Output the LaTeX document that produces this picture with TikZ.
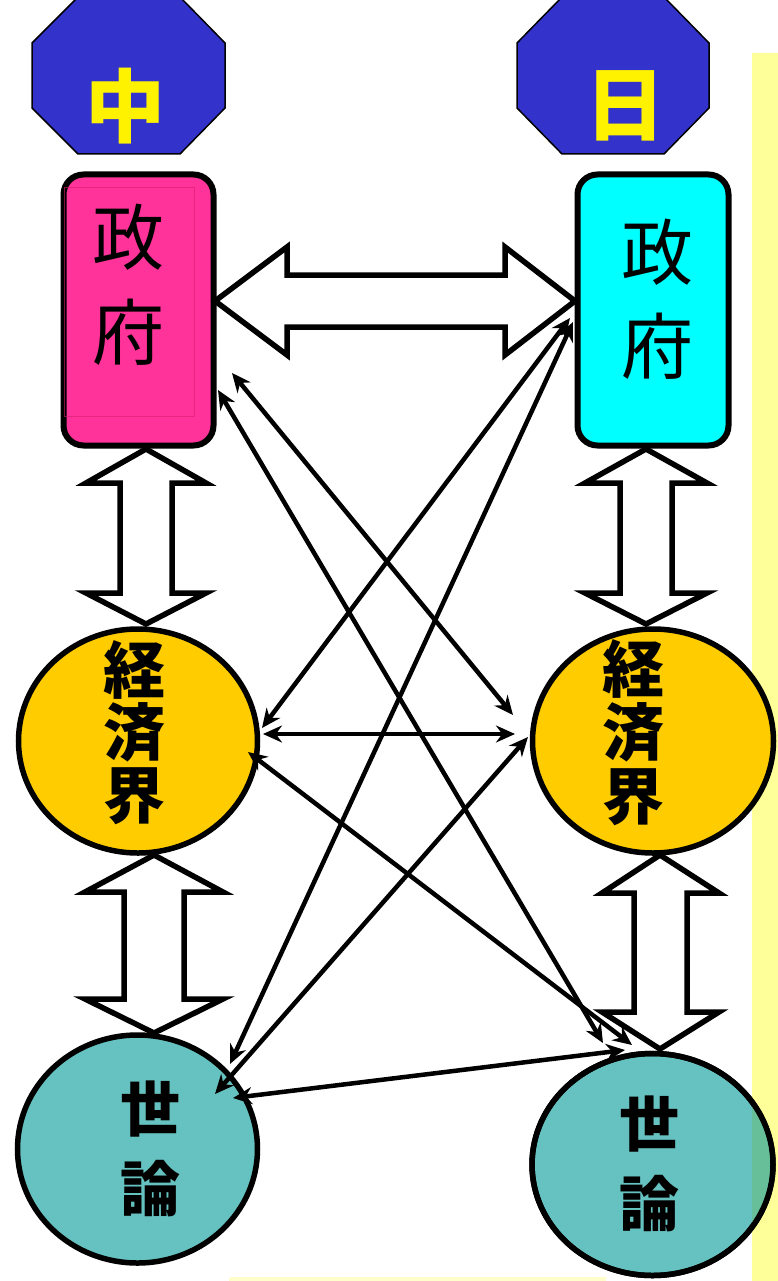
\documentclass[tikz,border=0pt]{standalone}
\usepackage{fontspec}
\newfontfamily\cjk{Noto Sans CJK JP}
\usetikzlibrary{arrows.meta,shapes.geometric}
\definecolor{octblue}{RGB}{51,51,204}
\definecolor{govpink}{RGB}{255,51,153}
\definecolor{govcyan}{RGB}{0,255,255}
\definecolor{ecogold}{RGB}{255,204,0}
\definecolor{pubteal}{RGB}{102,194,192}
\definecolor{pubgreen}{RGB}{102,191,153}
\definecolor{panelyel}{RGB}{255,255,153}
\definecolor{stripyel}{RGB}{255,255,204}
\definecolor{innerpink}{RGB}{215,30,110}
\tikzset{
  octa/.style={draw=black, line width=1.5pt, fill=octblue},
  govbox/.style={draw=black, line width=6pt, rounded corners=20pt, inner sep=0pt},
  oval/.style={draw=black, line width=5.5pt, ellipse, inner sep=0pt},
  blk/.style={draw=black, line width=5.5pt, fill=white, line join=miter},
  con/.style={draw=black, line width=4.5pt, {Stealth[length=19pt,width=17pt]}-{Stealth[length=19pt,width=17pt]}},
  flag/.style={inner sep=0pt, text=yellow, font=\cjk\bfseries\fontsize{80}{80}\selectfont},
  govtxt/.style={inner sep=0pt, font=\cjk\fontsize{72}{72}\selectfont},
  ecotxt/.style={inner sep=0pt, font=\cjk\bfseries\fontsize{62}{62}\selectfont},
  pubtxt/.style={inner sep=0pt, font=\cjk\bfseries\fontsize{60}{60}\selectfont},
}
\begin{document}
\begin{tikzpicture}[x=1pt,y=-1pt]
\useasboundingbox (0,0) rectangle (777,1281);
% background panels
\fill[panelyel] (752,53) rectangle (790,1290);
\fill[stripyel] (229,1277) rectangle (606,1290);
% octagons
\draw[octa] (78,-3) -- (180,-3) -- (225,43) -- (225,108) -- (180,154) -- (78,154) -- (32,108) -- (32,43) -- cycle;
\node[flag] (zh) at (125,106) {中};
\draw[octa] (562,-3) -- (664,-3) -- (709,43) -- (709,108) -- (664,154) -- (562,154) -- (517,108) -- (517,43) -- cycle;
\node[flag] (ja) at (625,106) {日};
% government boxes
\node[govbox, fill=govpink, minimum width=150pt, minimum height=271pt] (govL) at (138.5,310) {};
\draw[innerpink, line width=1pt, opacity=0.6] (64,188) rectangle (194,416);
\node[govtxt] (govL1) at (128,237) {政};
\node[govtxt] (govL2) at (128,332) {府};
\node[govbox, fill=govcyan, minimum width=151pt, minimum height=271pt] (govR) at (653,310) {};
\node[govtxt] (govR1) at (657,252) {政};
\node[govtxt] (govR2) at (657,346) {府};
% economy ovals
\node[oval, fill=ecogold, minimum width=239pt, minimum height=224pt] (ecoL) at (138,741) {};
\node[ecotxt] (ecoL1) at (134,670) {経};
\node[ecotxt] (ecoL2) at (134,732) {済};
\node[ecotxt] (ecoL3) at (134,796) {界};
\node[oval, fill=ecogold, minimum width=241pt, minimum height=224pt] (ecoR) at (653,741) {};
\node[ecotxt] (ecoR1) at (633,669) {経};
\node[ecotxt] (ecoR2) at (633,732) {済};
\node[ecotxt] (ecoR3) at (633,797) {界};
% public opinion ovals
\node[oval, fill=pubteal, minimum width=240pt, minimum height=228pt] (pubL) at (137.5,1149) {};
\node[pubtxt] (pubL1) at (150,1109) {世};
\node[pubtxt] (pubL2) at (150,1189) {論};
\node[oval, fill=pubteal, minimum width=241pt, minimum height=222pt] (pubR) at (652.5,1164.5) {};
\begin{scope}
  \clip (752,1000) rectangle (800,1300);
  \fill[pubgreen] (652.5,1164.5) ellipse [x radius=118pt, y radius=109pt];
\end{scope}
\draw[line width=5.5pt] (652.5,1164.5) ellipse [x radius=120.5pt, y radius=111pt];
\node[pubtxt] (pubR1) at (649,1124) {世};
\node[pubtxt] (pubR2) at (649,1204) {論};
\node[inner sep=0pt, font=\bfseries\fontsize{40}{40}\selectfont] (cut) at (786,1126) {(};
% block double arrows
\draw[blk] (215,301) -- (287,247) -- (287,275) -- (505,275) -- (505,247) -- (575,301) -- (505,355) -- (505,327) -- (287,327) -- (287,355) -- cycle;
\draw[blk] (146,449) -- (206,483) -- (172,483) -- (172,593) -- (206,593) -- (146,624) -- (86,593) -- (120,593) -- (120,483) -- (86,483) -- cycle;
\draw[blk] (646,449) -- (707,483) -- (672,483) -- (672,593) -- (707,593) -- (646,624) -- (585,593) -- (620,593) -- (620,483) -- (585,483) -- cycle;
\draw[blk] (154,855) -- (223,892) -- (184,892) -- (184,999) -- (223,999) -- (154,1033) -- (85,999) -- (124,999) -- (124,892) -- (85,892) -- cycle;
\draw[blk] (660,855) -- (719,893) -- (687,893) -- (687,1012) -- (719,1012) -- (660,1049) -- (602,1012) -- (634,1012) -- (634,893) -- (602,893) -- cycle;
% connector end points
\coordinate (a1) at (218,390);  \coordinate (a2) at (603,1043);
\coordinate (b1) at (232,373);  \coordinate (b2) at (513,715);
\coordinate (c1) at (570,318);  \coordinate (c2) at (262,728);
\coordinate (h1) at (263,734);  \coordinate (h2) at (515,734);
\coordinate (g1) at (248,752);  \coordinate (g2) at (632,1045);
\coordinate (d1) at (573,322);  \coordinate (d2) at (230,1064);
\coordinate (e1) at (528,737);  \coordinate (e2) at (215,1094);
\coordinate (f1) at (233,1098); \coordinate (f2) at (625,1050);
% thin connectors
\draw[con] (a1) -- (a2);
\draw[con] (b1) -- (b2);
\draw[con] (c1) -- (c2);
\draw[con] (h1) -- (h2);
\draw[con] (g1) -- (g2);
\draw[con] (d1) -- (d2);
\draw[con] (e1) -- (e2);
\draw[con] (f1) -- (f2);
\end{tikzpicture}
\end{document}
